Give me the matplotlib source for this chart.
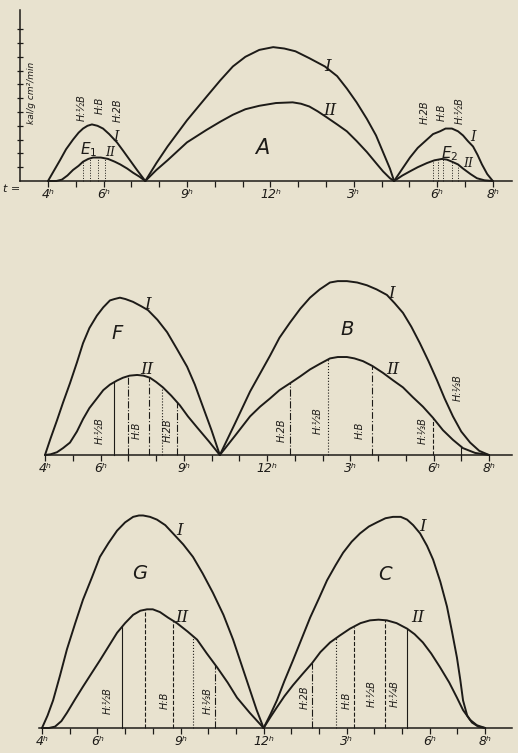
import numpy as np
import matplotlib
matplotlib.use("Agg")
import matplotlib.pyplot as plt

PAPER = "#e8e2cf"
INK = "#1d1b18"
S = 138.0  # pixels per kal/cm2/min

# hour ticks, same on all three panels
tick_hours = [4, 6, 9, 12, 15, 18, 20]
tick_labels = ["4ʰ", "6ʰ", "9ʰ", "12ʰ", "3ʰ", "6ʰ", "8ʰ"]

# --- panel 1: E1, A, E2 ---
a1_h = [7.5, 7.9, 8.3, 9.0, 9.7, 10.2, 10.65, 11.1, 11.6, 12.1, 12.5, 12.9, 13.4, 13.96,
        14.4, 14.75, 15.1, 15.47, 15.8, 16.05, 16.3, 16.45]
a1_v = [0, .13, .25, .44, .61, .73, .83, .90, .95, .97, .96, .94, .89, .83,
        .76, .67, .57, .45, .33, .21, .09, 0]
a2_h = [7.5, 7.9, 8.3, 9.0, 9.7, 10.2, 10.65, 11.1, 11.6, 12.2, 12.8, 13.1, 13.4, 13.7,
        14.0, 14.4, 14.75, 15.1, 15.47, 15.8, 16.05, 16.3, 16.45]
a2_v = [0, .08, .15, .28, .37, .43, .48, .52, .545, .565, .57, .56, .54, .505,
        .465, .41, .36, .29, .21, .13, .07, .02, 0]
e1_1_h = [4.0, 4.2, 4.43, 4.65, 4.9, 5.1, 5.26, 5.42, 5.58, 5.78, 5.98, 6.2, 6.48, 6.7,
          6.95, 7.2, 7.5]
e1_1_v = [0, .07, .15, .23, .30, .35, .38, .40, .41, .40, .38, .34, .28, .22,
          .15, .08, 0]
e1_2_h = [4.0, 4.3, 4.5, 4.7, 4.9, 5.1, 5.26, 5.45, 5.62, 5.9, 6.16, 6.4, 6.6, 6.85,
          7.06, 7.3, 7.5]
e1_2_v = [0, 0, .01, .04, .08, .11, .14, .16, .17, .17, .16, .14, .12, .09,
          .06, .03, 0]
e2_1_h = [16.45, 16.75, 17.02, 17.3, 17.63, 17.85, 18.1, 18.3, 18.53, 18.75, 18.93, 19.1,
          19.29, 19.45, 19.61, 19.8, 20.0]
e2_1_v = [0, .09, .17, .24, .30, .34, .36, .38, .38, .36, .33, .29,
          .25, .19, .12, .05, 0]
e2_2_h = [16.45, 16.75, 17.02, 17.3, 17.63, 17.9, 18.17, 18.35, 18.53, 18.75, 18.93, 19.2,
          19.43, 19.7, 20.0]
e2_2_v = [0, .04, .07, .10, .13, .15, .16, .155, .14, .12, .09, .05,
          .02, .005, 0]
e1_lines = [5.26, 5.51, 5.8, 6.05]
e2_lines = [17.85, 18.03, 18.21, 18.53, 18.75]

# --- panel 2: F, B ---
f1_h = [4.0, 4.2, 4.43, 4.65, 4.9, 5.15, 5.37, 5.6, 5.87, 6.1, 6.34, 6.5, 6.7, 6.9, 7.17,
        7.45, 7.71, 8.05, 8.4, 8.75, 9.12, 9.4, 9.69, 10.0, 10.3]
f1_v = [0, .12, .25, .38, .52, .67, .81, .92, 1.01, 1.07, 1.12, 1.13, 1.14, 1.13, 1.11,
        1.08, 1.05, .98, .89, .77, .64, .51, .35, .18, 0]
f2_h = [4.0, 4.2, 4.43, 4.65, 4.9, 5.15, 5.37, 5.6, 5.87, 6.1, 6.34, 6.6, 6.81, 7.05, 7.32,
        7.55, 7.78, 8.0, 8.25, 8.55, 8.86, 9.15, 9.48, 9.9, 10.3]
f2_v = [0, .005, .02, .05, .09, .17, .26, .34, .41, .47, .51, .54, .56, .575, .58,
        .575, .56, .53, .49, .43, .36, .28, .20, .10, 0]
b1_h = [10.3, 10.85, 11.39, 11.75, 12.11, 12.45, 12.83, 13.2, 13.55, 13.9, 14.27, 14.55,
        14.88, 15.25, 15.6, 15.95, 16.32, 16.6, 16.9, 17.2, 17.51, 17.82, 18.13, 18.4,
        18.7, 19.0, 19.32, 19.65, 20.0]
b1_v = [0, .23, .46, .59, .72, .85, .96, 1.06, 1.14, 1.20, 1.25, 1.26,
        1.26, 1.25, 1.23, 1.20, 1.16, 1.10, 1.03, .93, .81, .68, .54, .41,
        .28, .17, .09, .03, 0]
b2_h = [10.3, 10.85, 11.39, 11.75, 12.11, 12.45, 12.83, 13.2, 13.55, 13.9, 14.27, 14.55,
        14.88, 15.15, 15.46, 15.8, 16.18, 16.55, 16.9, 17.25, 17.62, 17.98, 18.34, 18.7,
        19.06, 19.5, 20.0]
b2_v = [0, .14, .28, .35, .41, .47, .52, .57, .62, .66, .70, .71,
        .71, .70, .68, .645, .595, .54, .49, .42, .35, .27, .18, .11,
        .05, .015, 0]
f_lines = [6.49, 6.99, 7.75, 8.22, 8.76]
f_styles = ["-", "-.", (0, (6, 2, 1, 2)), ":", "-."]
b_lines = [12.83, 14.2, 15.78, 17.98, 18.99]
b_styles = ["-.", ":", (0, (6, 2, 1, 2)), "--", "-"]

# --- panel 3: G, C ---
g1_h = [4.0, 4.2, 4.4, 4.65, 4.9, 5.2, 5.48, 5.8, 6.09, 6.4, 6.71, 7.0, 7.29, 7.5, 7.65,
        7.9, 8.15, 8.45, 8.73, 9.1, 9.45, 9.8, 10.17, 10.55, 10.9, 11.2, 11.5, 11.75, 12.0]
g1_v = [0, .09, .20, .38, .57, .76, .93, 1.09, 1.24, 1.34, 1.43, 1.49, 1.53, 1.54, 1.54,
        1.53, 1.51, 1.47, 1.41, 1.33, 1.24, 1.12, .98, .82, .64, .46, .28, .13, 0]
g2_h = [4.0, 4.25, 4.47, 4.7, 4.9, 5.2, 5.48, 5.8, 6.09, 6.4, 6.71, 7.0, 7.29, 7.55, 7.79,
        8.0, 8.26, 8.55, 8.87, 9.25, 9.6, 9.95, 10.32, 10.7, 11.04, 11.5, 12.0]
g2_v = [0, 0, .01, .05, .11, .21, .30, .40, .49, .59, .69, .76, .82, .85, .86,
        .86, .84, .80, .76, .70, .64, .54, .44, .33, .22, .11, 0]
c1_h = [12.0, 12.25, 12.48, 12.75, 13.06, 13.38, 13.68, 14.0, 14.29, 14.6, 14.87, 15.18,
        15.48, 15.8, 16.09, 16.4, 16.67, 16.95, 17.18, 17.4, 17.65, 17.9, 18.12, 18.38,
        18.62, 18.8, 18.98, 19.1, 19.2, 19.35, 19.52, 19.75, 20.0]
c1_v = [0, .10, .20, .34, .49, .65, .80, .94, 1.07, 1.18, 1.27, 1.35,
        1.41, 1.46, 1.49, 1.52, 1.53, 1.53, 1.51, 1.47, 1.41, 1.32, 1.22, 1.06,
        .88, .70, .51, .35, .20, .09, .04, .01, 0]
c2_h = [12.0, 12.25, 12.48, 12.75, 13.06, 13.4, 13.75, 14.05, 14.4, 14.75, 15.12, 15.5,
        15.84, 16.15, 16.45, 16.8, 17.18, 17.45, 17.75, 18.05, 18.37, 18.7, 18.98, 19.2,
        19.45, 19.7, 20.0]
c2_v = [0, .08, .15, .23, .31, .39, .47, .55, .62, .67, .72, .76,
        .78, .785, .78, .76, .72, .68, .62, .54, .44, .33, .22, .13,
        .06, .02, 0]
g_lines = [6.89, 7.72, 8.73, 9.45, 10.25]
g_styles = ["-", "--", "--", ":", "-."]
c_lines = [13.75, 14.61, 15.26, 16.38, 17.18]
c_styles = ["-.", ":", "--", "--", "-"]

W, H = 518, 753
fig = plt.figure(figsize=(W / 100, H / 100), dpi=100, facecolor=PAPER)


def panel(top, bottom, base, x0, pxh, xstart):
    ax = fig.add_axes([0, 1 - bottom / H, 1, (bottom - top) / H])
    ax.set_facecolor("none")
    ax.set_xlim(4 - x0 / pxh, 4 + (W - x0) / pxh)
    ax.set_ylim(-(bottom - base) / S, (base - top) / S)
    for s in ["top", "right", "left"]:
        ax.spines[s].set_visible(False)
    sp = ax.spines["bottom"]
    sp.set_position(("data", 0))
    sp.set_color(INK)
    sp.set_linewidth(1.1)
    sp.set_bounds(xstart, 4 + (W - 6 - x0) / pxh)
    ax.set_xticks(tick_hours)
    ax.set_xticklabels(tick_labels)
    ax.set_xticks(range(4, 21), minor=True)
    ax.tick_params(axis="x", which="both", direction="out", length=4, width=0.9,
                   color=INK, labelcolor=INK, labelsize=9, pad=1)
    for lbl in ax.get_xticklabels():
        lbl.set_style("italic")
    ax.set_yticks([])
    return ax


def curve(ax, h, v):
    ax.plot(h, v, color=INK, lw=1.4, solid_joinstyle="round", solid_capstyle="round")


def drops(ax, hours, styles, ch, cv, lw=0.8):
    for x, ls in zip(hours, styles):
        ax.plot([x, x], [0, np.interp(x, ch, cv)], color=INK, lw=lw, ls=ls)


def big(ax, x, y, s, size=14):
    ax.text(x, y, s, ha="center", va="center", fontsize=size, style="italic", color=INK)


def roman(ax, x, y, s, size=12):
    ax.text(x, y, s, ha="center", va="center", fontsize=size, style="italic",
            family="DejaVu Serif", color=INK)


def small(ax, x, y, s, size=7):
    ax.text(x, y, s, ha="center", va="center", fontsize=size, rotation=90,
            style="italic", color=INK)


# panel 1
ax1 = panel(0, 200, 181, 48, 27.8, 3.0)
ax1.spines["left"].set_visible(True)
ax1.spines["left"].set_position(("data", 3.0))
ax1.spines["left"].set_bounds(0, 1.24)
ax1.spines["left"].set_color(INK)
ax1.spines["left"].set_linewidth(1.1)
ax1.set_yticks(np.arange(0.1, 1.15, 0.1))
ax1.set_yticklabels([])
ax1.tick_params(axis="y", direction="inout", length=4, width=0.9, color=INK)
for h, v in [(a1_h, a1_v), (a2_h, a2_v), (e1_1_h, e1_1_v), (e1_2_h, e1_2_v),
             (e2_1_h, e2_1_v), (e2_2_h, e2_2_v)]:
    curve(ax1, h, v)
drops(ax1, e1_lines, [":"] * 4, e1_2_h, e1_2_v, lw=0.7)
drops(ax1, e2_lines, [":"] * 5, e2_2_h, e2_2_v, lw=0.7)
big(ax1, 11.7, 0.24, "A", 15)
roman(ax1, 14.07, 0.83, "I")
roman(ax1, 14.14, 0.51, "II")
big(ax1, 5.45, 0.23, "E$_1$", 11)
roman(ax1, 6.45, 0.32, "I", 10)
roman(ax1, 6.25, 0.21, "II", 9)
small(ax1, 5.22, 0.53, "H:½B")
small(ax1, 5.87, 0.55, "H:B")
small(ax1, 6.52, 0.51, "H:2B")
small(ax1, 17.56, 0.50, "H:2B")
small(ax1, 18.17, 0.50, "H:B")
small(ax1, 18.82, 0.51, "H:½B")
roman(ax1, 19.29, 0.32, "I", 10)
big(ax1, 18.46, 0.20, "E$_2$", 11)
roman(ax1, 19.1, 0.13, "II", 9)
ax1.text(2.7, -0.06, "t =", ha="center", va="center", fontsize=8, style="italic", color=INK)
ax1.text(3.42, 0.64, "kal/g cm²/min", ha="center", va="center", fontsize=6.5,
         rotation=90, style="italic", color=INK)

# panel 2
ax2 = panel(260, 475, 455, 45, 27.75, 4.0)
for h, v in [(f1_h, f1_v), (f2_h, f2_v), (b1_h, b1_v), (b2_h, b2_v)]:
    curve(ax2, h, v)
drops(ax2, f_lines, f_styles, f2_h, f2_v)
drops(ax2, b_lines, b_styles, b2_h, b2_v)
big(ax2, 6.59, 0.88, "F")
roman(ax2, 7.71, 1.09, "I")
roman(ax2, 7.68, 0.62, "II")
big(ax2, 14.88, 0.91, "B")
roman(ax2, 16.5, 1.17, "I")
roman(ax2, 16.54, 0.62, "II")
small(ax2, 5.98, 0.18, "H:½B")
small(ax2, 7.32, 0.18, "H:B")
small(ax2, 8.43, 0.18, "H:2B")
small(ax2, 12.54, 0.18, "H:2B")
small(ax2, 13.84, 0.25, "H:½B")
small(ax2, 15.35, 0.18, "H:B")
small(ax2, 17.62, 0.18, "H:⅓B")
small(ax2, 18.88, 0.49, "H:⅓B")

# panel 3
ax3 = panel(495, 753, 728, 42, 27.7, 3.9)
for h, v in [(g1_h, g1_v), (g2_h, g2_v), (c1_h, c1_v), (c2_h, c2_v)]:
    curve(ax3, h, v)
drops(ax3, g_lines, g_styles, g2_h, g2_v)
drops(ax3, c_lines, c_styles, c2_h, c2_v)
big(ax3, 7.54, 1.12, "G")
roman(ax3, 8.98, 1.43, "I")
roman(ax3, 9.05, 0.80, "II")
big(ax3, 16.38, 1.11, "C")
roman(ax3, 17.75, 1.46, "I")
roman(ax3, 17.57, 0.80, "II")
small(ax3, 6.38, 0.20, "H:½B")
small(ax3, 8.44, 0.20, "H:B")
small(ax3, 9.99, 0.20, "H:⅓B")
small(ax3, 13.49, 0.22, "H:2B")
small(ax3, 15.01, 0.20, "H:B")
small(ax3, 15.91, 0.25, "H:½B")
small(ax3, 16.74, 0.25, "H:¼B")

fig.savefig("out.png", dpi=100, facecolor=PAPER)
